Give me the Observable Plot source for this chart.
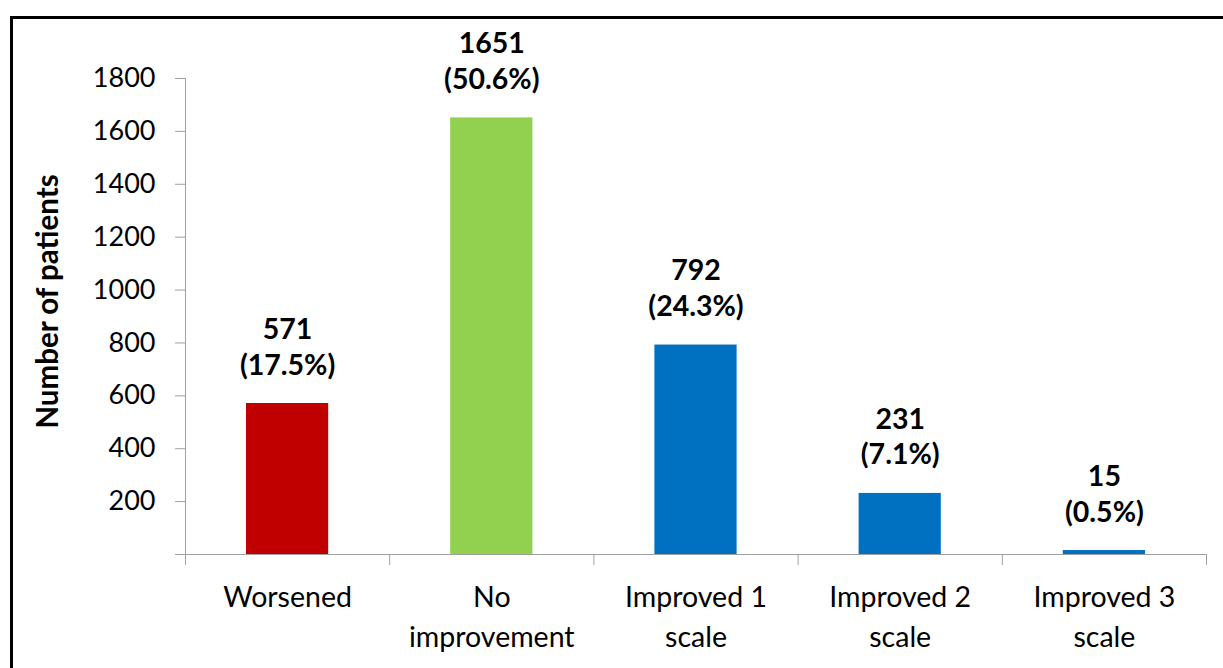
<!DOCTYPE html>
<html>
<head>
<meta charset="utf-8">
<script src="https://cdn.jsdelivr.net/npm/d3@7"></script>
<script src="https://cdn.jsdelivr.net/npm/@observablehq/plot@0.6"></script>
<style>
  html, body { margin: 0; padding: 0; background: #fff; }
  #wrap { position: relative; width: 1223px; height: 668px; overflow: hidden; }
  #frame { position: absolute; left: 10px; top: 16px; width: 1300px; height: 800px;
           border-top: 3px solid #000; border-left: 3px solid #000; pointer-events: none; }
</style>
</head>
<body>
<div id="wrap"><div id="frame"></div></div>
<script>
const categories = ["Worsened", "No improvement", "Improved 1 scale", "Improved 2 scale", "Improved 3 scale"];
const tickLabels = ["Worsened", "No\nimprovement", "Improved 1\nscale", "Improved 2\nscale", "Improved 3\nscale"];
const counts = [571, 1651, 792, 231, 15];
const percents = ["17.5", "50.6", "24.3", "7.1", "0.5"];
const colors = ["#C00000", "#92D050", "#0070C0", "#0070C0", "#0070C0"];
const yTicks = [0, 200, 400, 600, 800, 1000, 1200, 1400, 1600, 1800];
const yTitle = "Number of patients";

const data = categories.map((c, i) => ({
  cat: c, i, i1: i + 1, mid: i + 0.5, count: counts[i], pct: percents[i], color: colors[i]
}));
const gray = "#a0a0a0";
const fs = 27;

const chart = Plot.plot({
  width: 1223, height: 668,
  marginLeft: 185, marginRight: 17, marginTop: 78, marginBottom: 114,
  x: {domain: [0, categories.length]},
  y: {domain: [0, 1800]},
  color: {type: "identity"},
  style: {fontFamily: "Lato, sans-serif", fontSize: fs + "px", color: "#000", background: "transparent", overflow: "visible"},
  marks: [
    Plot.rectY(data, {x1: "i", x2: "i1", y: "count", fill: "color", insetLeft: 61, insetRight: 61}),
    Plot.frame({anchor: "left", stroke: gray, strokeOpacity: 1}),
    Plot.axisY({ticks: yTicks, tickSize: 10, tickPadding: 20, stroke: gray, strokeOpacity: 1, fill: "#000",
      tickFormat: d => d === 0 ? "" : String(d), label: null, fontSize: fs}),
    Plot.axisX({ticks: d3.range(categories.length + 1), tickSize: 11, stroke: gray, strokeOpacity: 1,
      tickFormat: () => "", label: null}),
    Plot.ruleY([0], {stroke: gray}),
    Plot.axisX({ticks: data.map(d => d.mid), tickSize: 0, tickPadding: 25, lineHeight: 1.38,
      tickFormat: (d) => tickLabels[Math.floor(d)], label: null, fontSize: 28.5, fill: "#000"}),
    Plot.text(data, {x: "mid", y: "count", text: d => `${d.count}\n(${d.pct}%)`, lineAnchor: "bottom",
      dy: -29, lineHeight: 1.26, fontWeight: "bold", fontSize: 28.5, fill: "#000"}),
    Plot.text([yTitle], {frameAnchor: "left", text: d => d, rotate: -90, textAnchor: "middle", dx: -137, dy: -15,
      fontWeight: "bold", fontSize: 29.5, fill: "#000"})
  ]
});
document.getElementById("wrap").insertBefore(chart, document.getElementById("frame"));
</script>
</body>
</html>
